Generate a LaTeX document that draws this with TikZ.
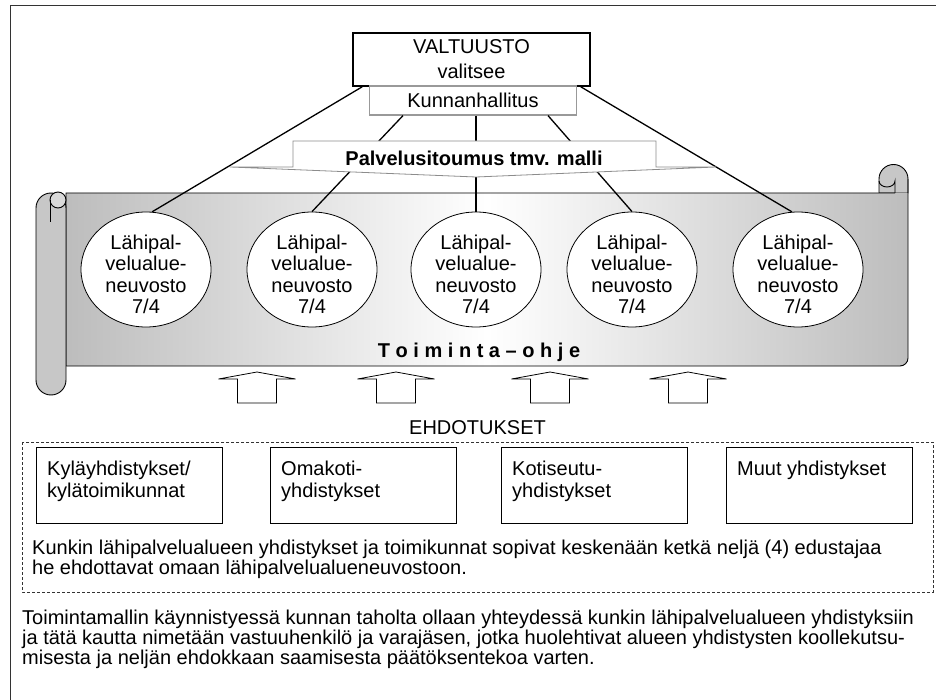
\documentclass[tikz,border=0pt]{standalone}
\usepackage{fontspec}
\setmainfont{Liberation Sans}
\usetikzlibrary{shapes.geometric,calc}
\definecolor{rollgray}{gray}{0.78}
\definecolor{edgegray}{gray}{0.74}
\tikzset{
 frameline/.style={draw=black!80, line width=1pt},
 topbox/.style={draw, line width=1.6pt, fill=white, minimum width=237pt, minimum height=53pt, inner sep=0pt, align=center, font=\fontsize{20}{25}\selectfont},
 khbox/.style={draw=black!40, line width=1.2pt, fill=white, minimum width=207pt, minimum height=29pt, inner sep=0pt, font=\fontsize{20}{20}\selectfont},
 council/.style={ellipse, draw, line width=0.8pt, fill=white, minimum width=130pt, minimum height=115pt, inner sep=0pt},
 counciltext/.style={inner sep=0pt, align=center, font=\fontsize{20}{21.5}\selectfont},
 link/.style={line width=1.3pt},
 bannerline/.style={draw=black!45, line width=0.8pt, fill=white},
 blockarrow/.style={draw, line width=0.8pt, fill=white},
 assocbox/.style={draw, line width=0.8pt, minimum width=186pt, minimum height=76pt, inner sep=0pt, anchor=north west},
 boxtext/.style={anchor=north west, inner sep=0pt, align=left, font=\fontsize{20}{22}\selectfont},
 para/.style={anchor=north west, inner sep=0pt, align=left, font=\fontsize{20}{20}\selectfont},
 dashframe/.style={draw=black!80, line width=0.6pt, dash pattern=on 3pt off 2pt},
 scrolledge/.style={draw, line width=0.9pt},
 plain/.style={inner sep=0pt, font=\fontsize{20}{20}\selectfont},
}
\begin{document}
\begin{tikzpicture}[x=1pt,y=-1pt]
\useasboundingbox (0,0) rectangle (936,700);
\fill[white] (0,0) rectangle (936,700);
% outer frame
\draw[frameline] (10,700) -- (10,6) -- (936,6);

% scroll: right roll
\filldraw[scrolledge, fill=rollgray] (879,193) -- (879,179) arc[start angle=180,end angle=0,radius=14.5pt] -- (908,193) -- cycle;
% scroll body
\shade[left color=edgegray, right color=edgegray, middle color=white]
  (66,193) -- (908,193) -- (908,358) arc[start angle=0,end angle=-90,radius=8pt] -- (66,366) -- cycle;
\draw[scrolledge] (895,193) -- (66,193) -- (66,366) -- (900,366) arc[start angle=-90,end angle=0,radius=8pt] -- (908,179);
\draw[scrolledge] (879,181) arc[start angle=180,end angle=360,x radius=8pt,y radius=6pt] -- (895,193);
% left roll
\filldraw[scrolledge, fill=rollgray] (66,208) -- (66,380) arc[start angle=0,end angle=-180,radius=15pt] -- (36,208) arc[start angle=180,end angle=0,radius=15pt] -- cycle;
\filldraw[scrolledge, fill=black!15] (58,200) circle[radius=8pt];
\draw[scrolledge] (50,200) -- (50,222);

% nodes
\node[topbox] (valt) at (471.5,59.5) {VALTUUSTO\\valitsee};
\node[khbox] (kh) at (473,100.5) {Kunnanhallitus};
\foreach \n/\cx in {1/146,2/312,3/476,4/632,5/798}{
  \node[council] (e\n) at (\cx,269.5) {};
  \node[counciltext] (l\n) at ([yshift=-5pt]e\n.center) {Lähipal-\\velualue-\\neuvosto\\7/4};
}

% connectors
\draw[link] ([xshift=10pt]valt.south west) -- (e1.84);
\draw[link] ([xshift=-10pt]valt.south east) -- (e5.96);
\draw[link] ([xshift=-70pt]kh.south) -- (e2.north);
\draw[link] (kh.south -| e3.north) -- (e3.north);
\draw[link] ([xshift=75pt]kh.south) -- (e4.north);

% banner
\filldraw[bannerline] (230,167) -- (293,167) -- (293,141) -- (656,141) -- (656,167) -- (716,167) -- (476,177) -- cycle;
\node[plain, font=\fontsize{20}{20}\selectfont\bfseries] (banner) at (474,158) {Palvelusitoumus tmv. malli};

\node[plain, font=\fontsize{20}{20}\selectfont\bfseries] (ohje) at (479,352) {T o i m i n t a – o h j e};

% proposal arrows
\foreach \c in {257,396,550,688}
  \draw[blockarrow] (\c,372) -- (\c+38.5,379) -- (\c+19.5,379) -- (\c+19.5,403) -- (\c-19.5,403) -- (\c-19.5,379) -- (\c-38.5,379) -- cycle;
\node[plain] (ehd) at (477.5,428) {EHDOTUKSET};

% associations
\draw[dashframe] (22,442) rectangle (933,592);
\node[assocbox] (b1) at (36,447) {};
\node[assocbox] (b2) at (270,447) {};
\node[assocbox] (b3) at (501,447) {};
\node[assocbox] (b4) at (726,447) {};
\node[boxtext] (t1) at ([shift={(11pt,-14pt)}]b1.north west) {Kyläyhdistykset/\\kylätoimikunnat};
\node[boxtext] (t2) at ([shift={(11pt,-14pt)}]b2.north west) {Omakoti-\\yhdistykset};
\node[boxtext] (t3) at ([shift={(11pt,-14pt)}]b3.north west) {Kotiseutu-\\yhdistykset};
\node[boxtext] (t4) at ([shift={(11pt,-14pt)}]b4.north west) {Muut yhdistykset};

\node[para] (kunkin) at (32,539.5) {Kunkin lähipalvelualueen yhdistykset ja toimikunnat sopivat keskenään ketkä neljä (4) edustajaa\\he ehdottavat omaan lähipalvelualueneuvostoon.};

\node[para] (toim) at (22,609.5) {Toimintamallin käynnistyessä kunnan taholta ollaan yhteydessä kunkin lähipalvelualueen yhdistyksiin\\ja tätä kautta nimetään vastuuhenkilö ja varajäsen, jotka huolehtivat alueen yhdistysten koollekutsu-\\misesta ja neljän ehdokkaan saamisesta päätöksentekoa varten.};
\end{tikzpicture}
\end{document}
